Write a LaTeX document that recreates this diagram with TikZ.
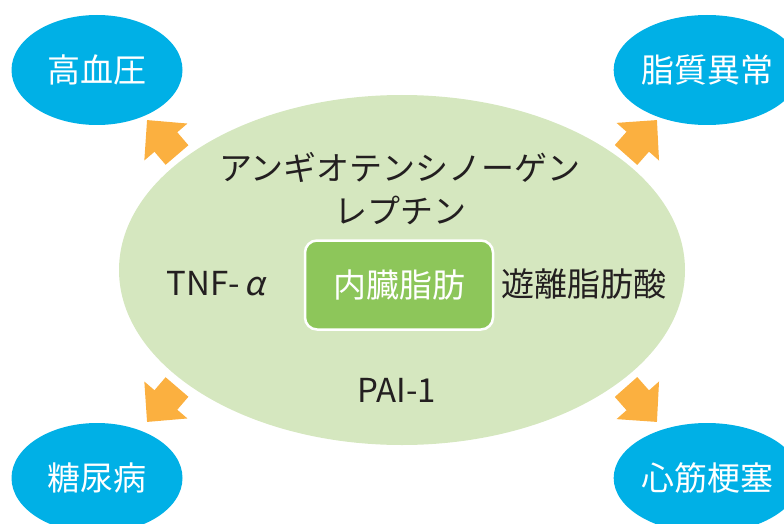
\documentclass[tikz,border=0pt]{standalone}
\usepackage{fontspec}
\setmainfont{Noto Sans CJK JP}
\usetikzlibrary{arrows.meta,shapes.geometric}
\definecolor{cblue}{RGB}{0,176,230}
\definecolor{cpale}{RGB}{213,231,191}
\definecolor{cgreen}{RGB}{141,198,90}
\definecolor{corange}{RGB}{251,176,64}
\definecolor{ctext}{RGB}{35,31,32}
\begin{document}
\begin{tikzpicture}[x=1pt,y=-1pt,
  bigfont/.style={font=\fontsize{33}{38}\selectfont},
  disease/.style={ellipse, fill=cblue, inner sep=0pt, minimum width=171pt, minimum height=110pt, text=white, bigfont},
  body/.style={ellipse, fill=cpale, inner sep=0pt, minimum width=566pt, minimum height=350pt},
  factor/.style={text=ctext, inner sep=0pt, bigfont},
  core/.style={rectangle, rounded corners=12pt, fill=cgreen, draw=white, line width=2.5pt, minimum width=188pt, minimum height=89pt, text=white, bigfont},
  bigarrow/.style={draw=corange, line width=30pt, -{Triangle[length=29pt,width=55pt]}, corange}
]
\useasboundingbox (0,0) rectangle (784,524);
\node[body] (fat) at (402,270) {};
\node[disease] (htn) at (97,70) {高血圧};
\node[disease] (dys) at (707,70) {脂質異常};
\node[disease] (dm) at (97,478) {糖尿病};
\node[disease] (mi) at (707,478) {心筋梗塞};
\node[factor] (agt) at (400,167) {アンギオテンシノーゲン};
\node[factor] (lep) at (400,210) {レプチン};
\node[factor] (tnf) at (216,284) {TNF-\hspace{5pt}{\addfontfeature{FakeSlant=0.2}α}};
\node[core] (vis) at (399,285) {内臓脂肪};
\node[factor] (ffa) at (584,284) {遊離脂肪酸};
\node[factor] (pai) at (397,390) {PAI-1};
\coordinate (tl0) at (177,155); \coordinate (tl1) at (147,120);
\coordinate (tr0) at (626,155); \coordinate (tr1) at (657,120);
\coordinate (bl0) at (177,387); \coordinate (bl1) at (147,422);
\coordinate (br0) at (626,387); \coordinate (br1) at (657,422);
\draw[bigarrow] (tl0) -- (tl1);
\draw[bigarrow] (tr0) -- (tr1);
\draw[bigarrow] (bl0) -- (bl1);
\draw[bigarrow] (br0) -- (br1);
\end{tikzpicture}
\end{document}
